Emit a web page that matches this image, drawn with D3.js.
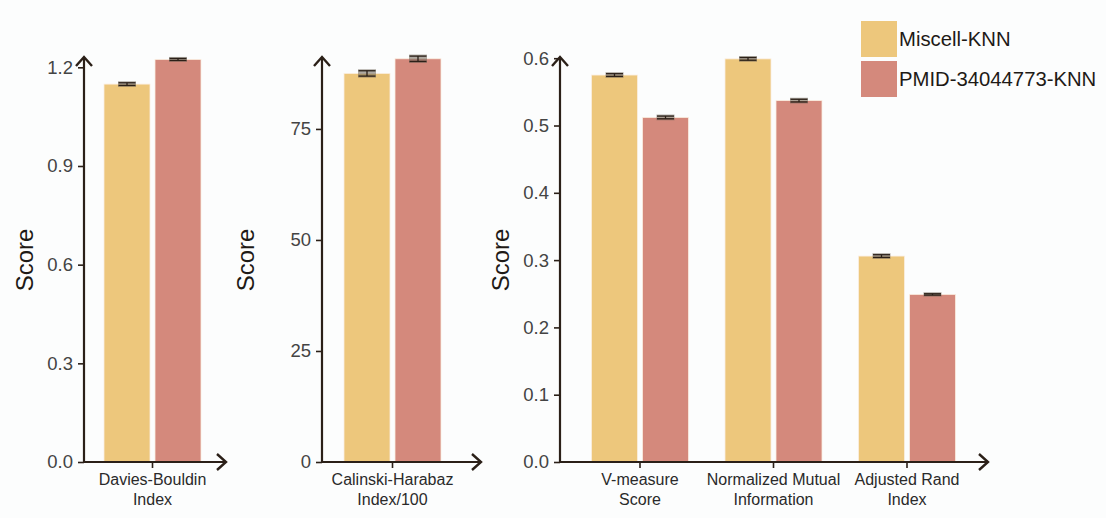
<!DOCTYPE html>
<html>
<head>
<meta charset="utf-8">
<script src="https://cdn.jsdelivr.net/npm/d3@7"></script>
<style>
  html, body { margin: 0; padding: 0; background: #fcfdfd; }
  svg { display: block; font-family: "Liberation Sans", Arial, sans-serif; }
</style>
</head>
<body>
<svg id="chart" width="1106" height="518"></svg>
<script>
// Series (methods) compared in every panel
const seriesNames = ["Miscell-KNN", "PMID-34044773-KNN"];
const seriesColors = ["#EDC77C", "#D4897C"];

// Panel 1: Davies-Bouldin index
const dbCategories = [["Davies-Bouldin", "Index"]];
const dbMiscell = [1.149];
const dbPmid = [1.224];
const dbErrMiscell = [0.004];
const dbErrPmid = [0.003];
const dbTicks = [0, 0.3, 0.6, 0.9, 1.2];

// Panel 2: Calinski-Harabaz index (divided by 100)
const chCategories = [["Calinski-Harabaz", "Index/100"]];
const chMiscell = [87.5];
const chPmid = [90.8];
const chErrMiscell = [0.6];
const chErrPmid = [0.6];
const chTicks = [0, 25, 50, 75];

// Panel 3: label-agreement scores
const agCategories = [["V-measure", "Score"], ["Normalized Mutual", "Information"], ["Adjusted Rand", "Index"]];
const agMiscell = [0.575, 0.599, 0.306];
const agPmid = [0.512, 0.537, 0.249];
const agErrMiscell = [0.002, 0.002, 0.002];
const agErrPmid = [0.002, 0.002, 0.001];
const agTicks = [0, 0.1, 0.2, 0.3, 0.4, 0.5, 0.6];

const svg = d3.select("#chart");
const axisColor = "#2b2018";
const tickTextColor = "#444";
const baseY = 462, topY = 57;

function drawPanel(cfg) {
  const g = svg.append("g");
  const y = d3.scaleLinear().domain([0, cfg.yMax]).range([baseY, topY]);
  const cats = cfg.categories.map(c => c.join(" "));
  const x0 = d3.scaleBand().domain(cats)
    .range([cfg.bandStart, cfg.bandEnd])
    .paddingInner(cfg.padInner).paddingOuter(cfg.padInner / 2);
  const x1 = d3.scaleBand().domain(seriesNames)
    .range([0, x0.bandwidth()]).paddingInner(5 / 51).paddingOuter(0);

  const rows = [];
  cats.forEach((c, i) => {
    rows.push({ cat: c, s: 0, v: cfg.a[i], e: cfg.ea[i] });
    rows.push({ cat: c, s: 1, v: cfg.b[i], e: cfg.eb[i] });
  });

  // bars
  g.selectAll("rect.bar").data(rows).enter().append("rect")
    .attr("class", "bar")
    .attr("x", d => x0(d.cat) + x1(seriesNames[d.s]))
    .attr("width", x1.bandwidth())
    .attr("y", d => y(d.v))
    .attr("height", d => y(0) - y(d.v))
    .attr("fill", d => seriesColors[d.s])
    .attr("stroke", "#fbeee0").attr("stroke-width", 0.8);

  // error bars
  const eb = g.selectAll("g.err").data(rows).enter().append("g").attr("class", "err");
  const cx = d => x0(d.cat) + x1(seriesNames[d.s]) + x1.bandwidth() / 2;
  const capW = 8.5;
  eb.append("rect")
    .attr("x", d => cx(d) - capW - 0.5)
    .attr("y", d => y(d.v + d.e) - 1.5)
    .attr("width", capW * 2 + 1)
    .attr("height", d => y(d.v - d.e) - y(d.v + d.e) + 3)
    .attr("fill", "#6d6458").attr("opacity", 0.55);
  eb.append("line")
    .attr("x1", cx).attr("x2", cx)
    .attr("y1", d => y(d.v + d.e)).attr("y2", d => y(d.v - d.e))
    .attr("stroke", axisColor).attr("stroke-width", 1.3);
  [1, -1].forEach(sign => {
    eb.append("line")
      .attr("x1", d => cx(d) - capW).attr("x2", d => cx(d) + capW)
      .attr("y1", d => y(d.v + sign * d.e)).attr("y2", d => y(d.v + sign * d.e))
      .attr("stroke", axisColor).attr("stroke-width", 1.3);
  });

  // y axis with ticks
  const yAxis = d3.axisLeft(y).tickValues(cfg.ticks).tickFormat(d3.format(cfg.fmt))
    .tickSize(6).tickPadding(5);
  const ya = g.append("g").attr("transform", `translate(${cfg.axisX},0)`).call(yAxis);
  ya.select(".domain").remove();
  ya.selectAll(".tick line").attr("stroke", axisColor).attr("stroke-width", 1.6);
  ya.selectAll(".tick text").attr("fill", tickTextColor)
    .style("font-size", "18.5px").style("font-family", "'Liberation Sans', Arial, sans-serif");

  // x axis ticks + labels
  const xa = g.append("g").attr("transform", `translate(0,${baseY})`)
    .call(d3.axisBottom(x0).tickSize(6).tickFormat(""));
  xa.select(".domain").remove();
  xa.selectAll(".tick line").attr("stroke", axisColor).attr("stroke-width", 1.6);
  cfg.categories.forEach((lines, i) => {
    const t = g.append("text")
      .attr("x", x0(cats[i]) + x0.bandwidth() / 2)
      .attr("y", 485)
      .attr("text-anchor", "middle")
      .attr("fill", "#2a2a2a")
      .style("font-size", "16px");
    lines.forEach((ln, j) => t.append("tspan")
      .attr("x", x0(cats[i]) + x0.bandwidth() / 2)
      .attr("dy", j === 0 ? 0 : 20).text(ln));
  });

  // axis lines with open arrow heads
  g.append("path")
    .attr("d", `M${cfg.axisX},${baseY}V${topY + 1}M${cfg.axisX},${baseY}H${cfg.arrowX - 1}`)
    .attr("stroke", axisColor).attr("stroke-width", 2.2).attr("fill", "none");
  g.append("path")
    .attr("d", `M${cfg.axisX - 8},${topY + 9}L${cfg.axisX},${topY}L${cfg.axisX + 8},${topY + 9}`)
    .attr("stroke", axisColor).attr("stroke-width", 2.4).attr("fill", "none");
  g.append("path")
    .attr("d", `M${cfg.arrowX - 9},${baseY - 8}L${cfg.arrowX},${baseY}L${cfg.arrowX - 9},${baseY + 8}`)
    .attr("stroke", axisColor).attr("stroke-width", 2.4).attr("fill", "none");

  // y title
  g.append("text")
    .attr("transform", `translate(${cfg.titleX},260) rotate(-90)`)
    .attr("text-anchor", "middle")
    .attr("dominant-baseline", "central")
    .attr("fill", "#1e1a16")
    .style("font-size", "24px")
    .text("Score");
}

drawPanel({
  categories: dbCategories, a: dbMiscell, b: dbPmid, ea: dbErrMiscell, eb: dbErrPmid,
  ticks: dbTicks, fmt: ".1f", yMax: 1.2314,
  bandStart: 85.75, bandEnd: 219.25, padInner: 36.5 / 133.5,
  axisX: 84, arrowX: 226, titleX: 24
});
drawPanel({
  categories: chCategories, a: chMiscell, b: chPmid, ea: chErrMiscell, eb: chErrPmid,
  ticks: chTicks, fmt: "d", yMax: 91.2,
  bandStart: 325.75, bandEnd: 459.25, padInner: 36.5 / 133.5,
  axisX: 322, arrowX: 481, titleX: 245
});
drawPanel({
  categories: agCategories, a: agMiscell, b: agPmid, ea: agErrMiscell, eb: agErrPmid,
  ticks: agTicks, fmt: ".1f", yMax: 0.6018,
  bandStart: 573.25, bandEnd: 973.75, padInner: 36.5 / 133.5,
  axisX: 560, arrowX: 988, titleX: 500
});

// legend
const legend = svg.append("g").attr("transform", "translate(861,21)");
seriesNames.forEach((name, i) => {
  legend.append("rect")
    .attr("x", 0).attr("y", i * 40)
    .attr("width", 36).attr("height", 36)
    .attr("fill", seriesColors[i]);
  legend.append("text")
    .attr("x", 38).attr("y", i * 40 + 18)
    .attr("dominant-baseline", "central")
    .attr("fill", "#1e1a16")
    .style("font-size", "20.3px")
    .text(name);
});
</script>
</body>
</html>
